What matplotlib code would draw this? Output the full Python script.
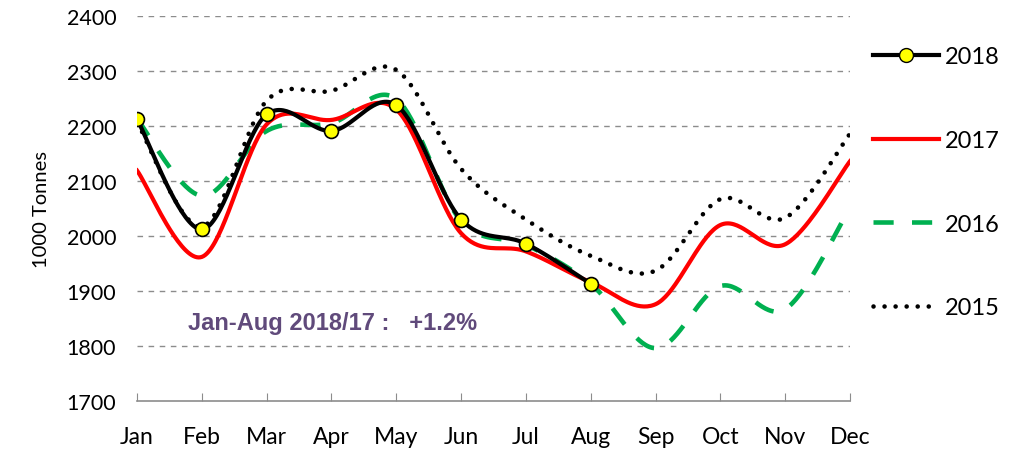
import numpy as np
import matplotlib.pyplot as plt
from matplotlib.lines import Line2D

# Monthly values, 1000 tonnes
months = ['Jan', 'Feb', 'Mar', 'Apr', 'May', 'Jun', 'Jul', 'Aug', 'Sep', 'Oct', 'Nov', 'Dec']
y2018 = [2212, 2012, 2221, 2191, 2238, 2030, 1986, 1913]
y2017 = [2119, 1962, 2203, 2211, 2230, 2005, 1972, 1916, 1876, 2020, 1985, 2136]
y2016 = [2213, 2073, 2191, 2205, 2249, 2027, 1984, 1913, 1796, 1909, 1867, 2052]
y2015 = [2207, 2017, 2246, 2264, 2302, 2122, 2030, 1964, 1937, 2067, 2033, 2186]
note = 'Jan-Aug 2018/17 :   +1.2%'


# Excel-like smoothed line (Catmull-Rom style bezier through the points)
def smooth(vals, n=40):
    p = np.asarray(vals, dtype=float)
    x = np.arange(len(p), dtype=float)
    xs, ys = [], []
    for i in range(len(p) - 1):
        i0 = max(i - 1, 0)
        i3 = min(i + 2, len(p) - 1)
        c1 = p[i] + (p[i + 1] - p[i0]) / 6.0
        c2 = p[i + 1] - (p[i3] - p[i]) / 6.0
        cx1 = x[i] + (x[i + 1] - x[i0]) / 6.0
        cx2 = x[i + 1] - (x[i3] - x[i]) / 6.0
        t = np.linspace(0, 1, n)
        b0, b1, b2, b3 = (1 - t) ** 3, 3 * t * (1 - t) ** 2, 3 * t ** 2 * (1 - t), t ** 3
        xs.append(b0 * x[i] + b1 * cx1 + b2 * cx2 + b3 * x[i + 1])
        ys.append(b0 * p[i] + b1 * c1 + b2 * c2 + b3 * p[i + 1])
    return np.concatenate(xs), np.concatenate(ys)


plt.rcParams['font.family'] = ['Lato', 'DejaVu Sans']

fig = plt.figure(figsize=(10.18, 4.52), dpi=100)
ax = fig.add_axes([0.1346, 0.1106, 0.7004, 0.8518])

grid_kw = dict(color='#8c8c8c', linewidth=1.0, linestyle=(0, (4, 4)), zorder=0)
for v in range(1800, 2401, 100):
    ax.axhline(v, **grid_kw)

sx, sy = smooth(y2015)
ax.plot(sx, sy, color='black', linewidth=3.3, linestyle=(0, (0.01, 2.4)),
        dash_capstyle='round', zorder=2)
sx, sy = smooth(y2016)
ax.plot(sx, sy, color='#00b050', linewidth=3.3, linestyle=(0, (4.4, 4.0)), zorder=3)
sx, sy = smooth(y2017)
ax.plot(sx, sy, color='#ff0000', linewidth=3.0, zorder=4)
sx, sy = smooth(y2018)
ax.plot(sx, sy, color='black', linewidth=3.0, zorder=5)
ax.plot(range(len(y2018)), y2018, linestyle='none', marker='o', markersize=10,
        markerfacecolor='#ffff00', markeredgecolor='black', markeredgewidth=1.2, zorder=6)

ax.text(0.78, 1842, note, fontsize=17, fontweight='bold', color='#604a7b',
        family='Liberation Sans', va='center', ha='left')

ax.set_xlim(0, 11)
ax.set_ylim(1700, 2400)
ax.set_xticks(range(12))
ax.set_xticklabels(months, fontsize=16.5)
ax.set_yticks(range(1700, 2401, 100))
ax.tick_params(axis='y', labelsize=15.5, length=0, pad=15)
ax.tick_params(axis='x', direction='in', length=6, color='#8c8c8c', pad=18)
for s in ['top', 'right', 'left']:
    ax.spines[s].set_visible(False)
ax.spines['bottom'].set_color('#8c8c8c')
ax.spines['bottom'].set_linewidth(1.2)
ax.set_ylabel('1000 Tonnes', fontsize=14.5, labelpad=12)

handles = [
    Line2D([], [], color='black', linewidth=3.0, marker='o', markersize=10,
           markerfacecolor='#ffff00', markeredgecolor='black'),
    Line2D([], [], color='#ff0000', linewidth=3.0),
    Line2D([], [], color='#00b050', linewidth=3.3, linestyle=(0, (4.4, 4.0))),
    Line2D([], [], color='black', linewidth=3.3, linestyle=(0, (0.01, 2.4)),
           dash_capstyle='round'),
]
fig.legend(handles, ['2018', '2017', '2016', '2015'], loc='upper left',
           bbox_to_anchor=(0.837, 0.943), frameon=False, fontsize=17,
           handlelength=2.8, handletextpad=0.25, labelspacing=2.66)

fig.savefig('out.png', dpi=100)
